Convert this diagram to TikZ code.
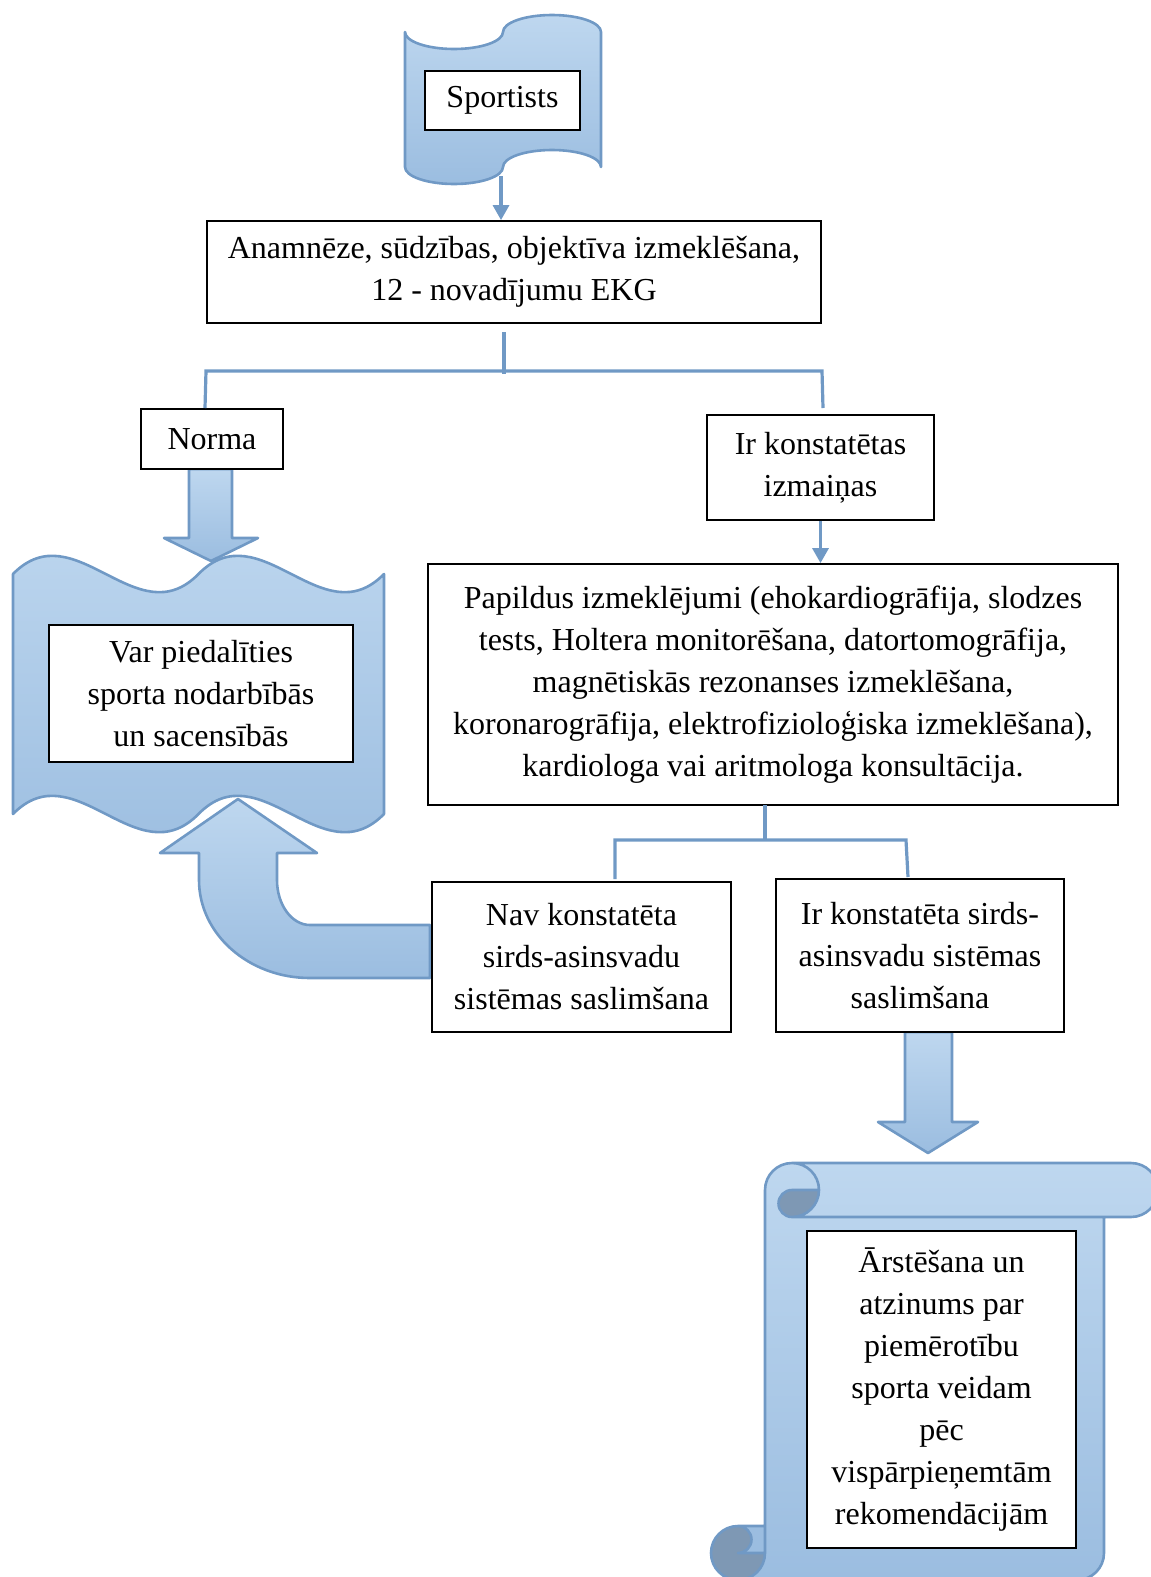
\documentclass[tikz,border=0pt]{standalone}
\usepackage{fontspec}
\setmainfont{Liberation Serif}
\usetikzlibrary{arrows.meta}
\definecolor{bline}{RGB}{112,153,197}
\definecolor{ftop}{RGB}{190,215,239}
\definecolor{fbot}{RGB}{155,189,224}
\definecolor{curl}{RGB}{126,152,180}
\newcommand\fs{\fontsize{32}{42}\selectfont}
\tikzset{
 shp/.style={draw=bline, line width=2.6pt, top color=ftop, bottom color=fbot, line join=round},
 box/.style={draw=black, line width=1.8pt, fill=white, inner sep=0pt, align=center, font=\fs},
 conn/.style={draw=bline, line width=3.2pt, line join=miter},
 tip/.style={-{Triangle[width=16pt,length=15pt]}},
}
\begin{document}
\begin{tikzpicture}[x=1pt,y=-1pt]
\useasboundingbox (0,0) rectangle (1151,1577);
\clip (0,0) rectangle (1151,1577);

% top punched tape
\path[shp] (405,32) arc[start angle=180,end angle=0,x radius=49,y radius=17]
  arc[start angle=180,end angle=360,x radius=49,y radius=17] -- (601,167)
  arc[start angle=0,end angle=-180,x radius=49,y radius=17]
  arc[start angle=0,end angle=180,x radius=49,y radius=17] -- cycle;

% big double wave
\path[shp] (13,574) .. controls (74.8,511) and (136.7,637) .. (198.5,574)
  .. controls (260.3,511) and (322.2,637) .. (384,574) -- (384,814)
  .. controls (322.2,877) and (260.3,751) .. (198.5,814)
  .. controls (136.7,877) and (74.8,751) .. (13,814) -- cycle;

% fat down arrow (Norma)
\path[shp] (189,469) -- (232,469) -- (232,538) -- (258,538) -- (211,561) -- (164,538) -- (189,538) -- cycle;

% U-turn arrow
\path[shp] (430,925) -- (310,925) arc[start angle=90,end angle=180,x radius=33,y radius=45]
  -- (277,853) -- (317,853) -- (238,799) -- (160,853) -- (199,853) -- (199,880)
  arc[start angle=180,end angle=90,x radius=111,y radius=98] -- (430,978) -- cycle;

% fat down arrow (to scroll)
\path[shp] (905,1032) -- (952,1032) -- (952,1122) -- (978,1122) -- (928,1153) -- (878,1122) -- (905,1122) -- cycle;

% vertical scroll
\path[top color=ftop,bottom color=fbot] (738,1580) arc[start angle=90,end angle=0,radius=27]
  -- (765,1190) arc[start angle=180,end angle=270,radius=27] -- (1131,1163)
  arc[start angle=270,end angle=450,radius=27] -- (1104,1217) -- (1104,1553)
  arc[start angle=0,end angle=90,radius=27] -- cycle;
\path[fill=curl] (819,1190) arc[start angle=0,end angle=90,radius=27] arc[start angle=90,end angle=270,radius=13.5] -- cycle;
\path[fill=curl] (738,1553) circle[radius=27];
\path[fill=fbot] (738,1526) -- (765,1526) -- (765,1553) -- (738,1553) arc[start angle=90,end angle=-90,radius=13.5] -- cycle;
\draw[draw=bline,line width=2.6pt,line join=round]
  (765,1526) -- (765,1190) arc[start angle=180,end angle=270,radius=27] -- (1131,1163)
  arc[start angle=270,end angle=450,radius=27] -- (1104,1217) -- (1104,1553)
  arc[start angle=0,end angle=90,radius=27] -- (738,1580) arc[start angle=90,end angle=270,radius=27] -- cycle
  (792,1163) arc[start angle=270,end angle=450,radius=27] arc[start angle=90,end angle=270,radius=13.5] -- (819,1190)
  (1104,1217) -- (792,1217)
  (738,1526) arc[start angle=270,end angle=450,radius=13.5] -- (765,1553)
  (738,1580) arc[start angle=90,end angle=0,radius=27] -- (765,1526);

% boxes
\node[box, minimum width=155pt, minimum height=59pt] (sport) at (502.5,100.5) {Sportists};
\node[box, minimum width=614pt, minimum height=102pt] (anam) at (514,272) {Anamnēze, sūdzības, objektīva izmeklēšana,\\ 12 - novadījumu EKG};
\node[box, minimum width=142pt, minimum height=60pt] (norma) at (212,439) {Norma};
\node[box, minimum width=227pt, minimum height=105pt] (irk) at (820.5,467.5) {Ir konstatētas\\ izmaiņas};
\node[box, minimum width=304pt, minimum height=137pt] (var) at (201,693.5) {Var piedalīties\\ sporta nodarbībās\\ un sacensībās};
\node[box, minimum width=690pt, minimum height=241pt] (pap) at (773,684.5) {Papildus izmeklējumi (ehokardiogrāfija, slodzes\\ tests, Holtera monitorēšana, datortomogrāfija,\\ magnētiskās rezonanses izmeklēšana,\\ koronarogrāfija, elektrofizioloģiska izmeklēšana),\\ kardiologa vai aritmologa konsultācija.};
\node[box, minimum width=299pt, minimum height=150pt] (nav) at (581.5,957) {Nav konstatēta\\ sirds-asinsvadu\\ sistēmas saslimšana};
\node[box, minimum width=288pt, minimum height=153pt] (irs) at (920,955.5) {Ir konstatēta sirds-\\ asinsvadu sistēmas\\ saslimšana};
\node[box, minimum width=269pt, minimum height=317pt] (arst) at (941.5,1389.5) {Ārstēšana un\\ atzinums par\\ piemērotību\\ sporta veidam\\ pēc\\ vispārpieņemtām\\ rekomendācijām};

% connectors
\coordinate (t1) at (501,176);
\draw[conn,tip] (t1) -- (t1 |- anam.north);

\coordinate (a1) at (504,332);
\coordinate (a2) at (504,374);
\coordinate (h1l) at (206,371);
\coordinate (h1r) at (822,371);
\coordinate (d1l) at (205,408);
\coordinate (d1r) at (823,408);
\draw[conn] (a1) -- (a2);
\draw[conn] (d1l) -- (h1l) -- (h1r) -- (d1r);

\draw[conn,tip] (irk.south) -- (irk.south |- pap.north);

\coordinate (b1) at (765,805);
\coordinate (b2) at (765,840);
\coordinate (h2l) at (615,840);
\coordinate (h2r) at (906,840);
\coordinate (d2l) at (615,879);
\coordinate (d2r) at (908,877);
\draw[conn] (b1) -- (b2);
\draw[conn] (d2l) -- (h2l) -- (h2r) -- (d2r);
\end{tikzpicture}
\end{document}
